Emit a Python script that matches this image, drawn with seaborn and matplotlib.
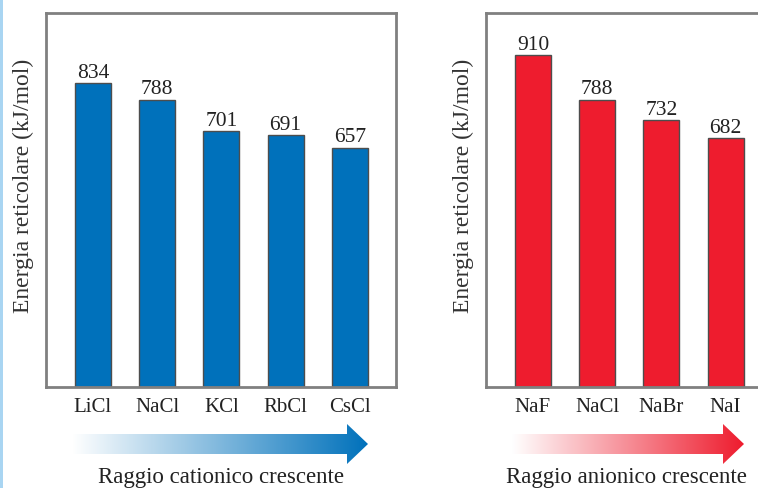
import matplotlib
matplotlib.use("Agg")
import matplotlib.pyplot as plt
import numpy as np
import pandas as pd
import seaborn as sns
from matplotlib.colors import LinearSegmentedColormap
from matplotlib.patches import Polygon, Rectangle

sns.set_theme(style="white")
plt.rcParams["font.family"] = ["Liberation Serif", "DejaVu Serif"]

# data
cation_salts = ["LiCl", "NaCl", "KCl", "RbCl", "CsCl"]
cation_energy = [834, 788, 701, 691, 657]
anion_salts = ["NaF", "NaCl", "NaBr", "NaI"]
anion_energy = [910, 788, 732, 682]
y_label = "Energia reticolare (kJ/mol)"
cation_caption = "Raggio cationico crescente"
anion_caption = "Raggio anionico crescente"

BLUE = "#0071bb"
RED = "#ee1c2e"
W, H = 758, 489

fig = plt.figure(figsize=(W / 100, H / 100), dpi=100)


def px_axes(left, top, right, bottom):
    return fig.add_axes([left / W, 1 - bottom / H, (right - left) / W, (bottom - top) / H])


def draw_panel(ax, names, values, color):
    df = pd.DataFrame({"salt": names, "energy": values})
    sns.barplot(data=df, x="salt", y="energy", color=color, width=0.56,
                edgecolor="#4d4d4d", linewidth=1.0, saturation=1, ax=ax)
    ax.bar_label(ax.containers[0], padding=1, fontsize=15.5, color="#222222")
    ax.set_xlim(-0.73, 4.72)
    ax.set_ylim(0, 1026)
    ax.set_yticks([])
    ax.set_xlabel("")
    ax.set_ylabel(y_label, fontsize=17, color="#333333")
    ax.yaxis.set_label_coords(-0.035, 0.54)
    ax.tick_params(axis="x", length=0, pad=7, labelsize=15, labelcolor="#222222")
    for s in ax.spines.values():
        s.set_visible(True)
        s.set_color("#808080")
        s.set_linewidth(2)


ax1 = px_axes(46, 14, 396, 388)
draw_panel(ax1, cation_salts, cation_energy, BLUE)
ax2 = px_axes(486, 14, 836, 388)
draw_panel(ax2, anion_salts, anion_energy, RED)

# overlay in pixel coordinates for the arrows and captions
ov = fig.add_axes([0, 0, 1, 1], zorder=5)
ov.set_xlim(0, W)
ov.set_ylim(H, 0)
ov.axis("off")
ov.patch.set_alpha(0)


def gradient_arrow(x0, x1, yc, color):
    head = 21
    shaft, hh = 10, 20
    pts = [(x0, yc - shaft), (x1 - head, yc - shaft), (x1 - head, yc - hh), (x1, yc),
           (x1 - head, yc + hh), (x1 - head, yc + shaft), (x0, yc + shaft)]
    poly = Polygon(pts, closed=True, facecolor="none", edgecolor="none")
    ov.add_patch(poly)
    cmap = LinearSegmentedColormap.from_list("g", ["#ffffff", color])
    grad = np.linspace(0, 1, 256).reshape(1, -1)
    im = ov.imshow(grad, cmap=cmap, aspect="auto",
                   extent=(x0, x1, yc + hh, yc - hh), interpolation="bilinear")
    im.set_clip_path(poly)


gradient_arrow(72, 368, 445, BLUE)
gradient_arrow(512, 744, 445, RED)
ov.text(221, 477, cation_caption, ha="center", va="center", fontsize=16.5, color="#222222")
ov.text(626, 477, anion_caption, ha="center", va="center", fontsize=16.5, color="#222222")
ov.add_patch(Rectangle((0, 0), 3, H, color="#a9d5f2", lw=0))

fig.savefig("out.png", dpi=100)
